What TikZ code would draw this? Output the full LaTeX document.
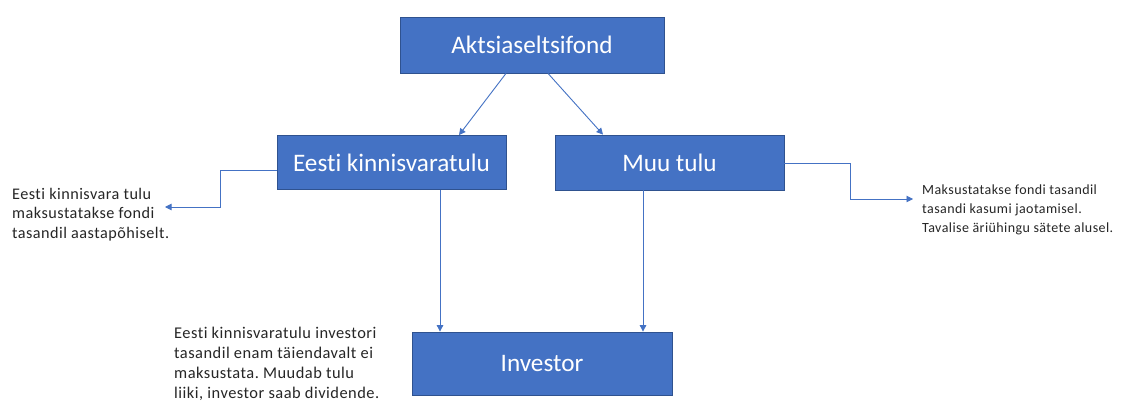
\documentclass[tikz,border=0pt]{standalone}
\usepackage{fontspec}
\setmainfont{Carlito}[Ligatures=NoCommon]
\newfontfamily\notefont{Carlito}[Ligatures=NoCommon, LetterSpace=3]
\usetikzlibrary{arrows.meta}
\definecolor{boxblue}{HTML}{4472C4}
\definecolor{boxedge}{HTML}{2F528F}
\definecolor{linkblue}{HTML}{4472C4}
\definecolor{notegray}{HTML}{262626}
\tikzset{
  fundbox/.style={draw=boxedge, line width=0.8pt, fill=boxblue, text=white,
    font=\fontsize{25.2}{28}\selectfont, inner sep=0pt, anchor=center},
  conn/.style={draw=linkblue, line width=0.9pt,
    -{Triangle[length=6.5pt, width=6.5pt]}},
  note/.style={text=notegray, align=left, inner sep=0pt, anchor=north west}
}
\frenchspacing
\begin{document}
\begin{tikzpicture}[x=1pt, y=-1pt]
  \useasboundingbox (0,0) rectangle (1142,403);
  \fill[white] (0,0) rectangle (1142,403);

  % boxes
  \node[fundbox, minimum width=264pt, minimum height=56pt] (ak) at (532,45) {Aktsiaseltsifond};
  \node[fundbox, minimum width=229pt, minimum height=54pt] (ee) at (391.5,162.5) {Eesti kinnisvaratulu};
  \node[fundbox, minimum width=229pt, minimum height=55pt] (mu) at (669.5,162.5) {Muu tulu};
  \node[fundbox, minimum width=260pt, minimum height=63pt] (in) at (542,363.5) {Investor};

  % notes
  \node[note, font=\notefont\fontsize{16.2}{19.5}\selectfont] (nl) at (12,188)
    {Eesti kinnisvara tulu\\maksustatakse fondi\\tasandil aastapõhiselt.};
  \node[note, font=\notefont\fontsize{14}{19}\selectfont] (nr) at (922,185)
    {Maksustatakse fondi tasandil\\tasandi kasumi jaotamisel.\\Tavalise äriühingu sätete alusel.};
  \node[note, font=\notefont\fontsize{16.4}{20}\selectfont] (nb) at (174,326.5)
    {Eesti kinnisvaratulu investori\\tasandil enam täiendavalt ei\\maksustata. Muudab tulu\\liiki, investor saab dividende.};

  % connectors
  \coordinate (lt) at (165,207);
  \coordinate (rt) at (913,199);
  \draw[conn] (ak.south -| 506,0) -- (ee.north -| 459,0);
  \draw[conn] (ak.south -| 548,0) -- (mu.north -| 603,0);
  \draw[conn] (ee.south -| 440,0) -- (in.north -| 440,0);
  \draw[conn] (mu.south -| 643,0) -- (in.north -| 643,0);
  \draw[conn] (ee.west |- 0,170) -- (220,170) |- (lt);
  \draw[conn] (mu.east |- 0,163) -- (850,163) |- (rt);
\end{tikzpicture}
\end{document}
